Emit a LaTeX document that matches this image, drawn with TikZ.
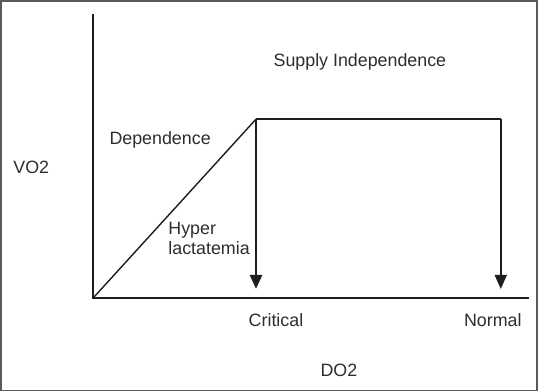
\documentclass[tikz,border=0pt]{standalone}
\usepackage{fontspec}
\setmainfont{Liberation Sans}
\usetikzlibrary{arrows.meta,positioning}
\definecolor{ink}{RGB}{30,30,30}
\definecolor{label}{RGB}{45,45,45}
\definecolor{frame}{RGB}{90,90,90}
\tikzset{
  >={Triangle[length=10pt,width=8.5pt]},
  axis/.style={draw=ink,line width=1.05pt},
  curve/.style={draw=ink,line width=#1},
  curve/.default=1pt,
  drop/.style={->,draw=ink,line width=#1},
  drop/.default=1.4pt,
  tag/.style={font=\fontsize{12.7pt}{14.8pt}\selectfont,text=label,inner sep=0pt,align=#1},
  tag/.default=center,
}
\begin{document}
\begin{tikzpicture}[x=0.025cm,y=-0.025cm]
  % frame of the figure
  \draw[frame,line width=1.1pt] (0.5,0.5) rectangle (537.5,390.5);
  \useasboundingbox (0,0) rectangle (538,391);
  % axes
  \coordinate (O) at (93,298);
  \coordinate (ytop) at (93,13.5);
  \coordinate (xend) at (529,298);
  \draw[axis] (ytop) -- (O) -- (xend);
  % supply curve
  \coordinate (crit) at (256,119);
  \coordinate (norm) at (501,119);
  \coordinate (critfoot) at (256,289);
  \coordinate (normfoot) at (501,289);
  \draw[curve] (O) -- (crit);
  \draw[curve=1.45pt] (crit) -- (norm);
  \draw[drop=2.1pt] (crit) -- (critfoot);
  \draw[drop] (norm) -- (normfoot);
  % labels
  \node[tag] (vo2) at (31,167) {VO2};
  \node[tag] (dep) at (160,140) {Dependence};
  \node[tag] (indep) at (360,62) {Supply Independence};
  \node[tag=left,anchor=north west] (hyper) at (168,221.5) {Hyper\\lactatemia};
  \node[tag] (critical) at (276,320.5) {Critical};
  \node[tag] (normal) at (493,320.5) {Normal};
  \node[tag] (do2) at (339,370) {DO2};
\end{tikzpicture}
\end{document}
